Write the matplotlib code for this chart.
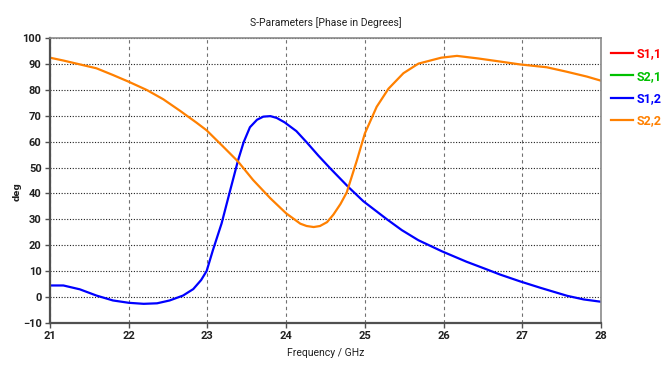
import matplotlib

matplotlib.use("Agg")

import matplotlib.pyplot as plt

# S1,2 phase (blue)
freq_s12 = [21.0, 21.17, 21.38, 21.59, 21.8, 22.0, 22.19, 22.36, 22.52, 22.69,
            22.82, 22.92, 22.99, 23.07, 23.18, 23.29, 23.39, 23.46, 23.54, 23.63,
            23.71, 23.8, 23.88, 23.98, 24.13, 24.26, 24.41, 24.56, 24.79, 24.98,
            25.28, 25.47, 25.68, 25.98, 26.29, 26.55, 26.72, 26.97, 27.23, 27.57,
            27.78, 28.0]
phase_s12 = [4.4, 4.4, 2.9, 0.5, -1.4, -2.3, -2.7, -2.5, -1.4, 0.5,
             3.0, 6.5, 10.0, 18.1, 28.4, 41.3, 52.9, 59.8, 65.6, 68.5,
             69.7, 69.9, 69.2, 67.5, 64.1, 59.8, 54.6, 49.7, 42.5, 37.0,
             30.0, 25.8, 21.9, 17.6, 13.6, 10.6, 8.6, 6.0, 3.5, 0.4,
             -1.0, -1.9]

# S2,2 phase (orange)
freq_s22 = [21.0, 21.17, 21.38, 21.59, 21.8, 22.0, 22.23, 22.44, 22.65, 22.86,
            22.99, 23.2, 23.39, 23.58, 23.8, 24.0, 24.18, 24.26, 24.35, 24.43,
            24.52, 24.6, 24.69, 24.77, 24.9, 25.0, 25.15, 25.3, 25.49, 25.68,
            25.97, 26.17, 26.44, 26.72, 26.97, 27.31, 27.56, 27.82, 28.0]
phase_s22 = [92.5, 91.4, 89.9, 88.4, 85.8, 83.2, 80.0, 76.4, 72.0, 67.4,
             64.4, 58.1, 52.3, 45.2, 38.1, 32.3, 28.3, 27.4, 27.0, 27.4,
             28.9, 31.8, 35.9, 40.4, 52.9, 63.2, 73.5, 80.5, 86.5, 90.2,
             92.5, 93.2, 92.2, 91.0, 89.9, 88.8, 87.1, 85.2, 83.6]

x_ticks = [21, 22, 23, 24, 25, 26, 27, 28]
y_ticks = [-10, 0, 10, 20, 30, 40, 50, 60, 70, 80, 90, 100]

plt.rcParams["font.family"] = ["Liberation Sans Narrow", "Roboto", "DejaVu Sans"]

fig = plt.figure(figsize=(6.65, 3.69), dpi=100)
ax = fig.add_axes([50 / 665, 1 - 322.7 / 369, 551 / 665, 284.4 / 369])

# S1,1 and S2,1 have no trace, they only show in the legend
ax.plot([], [], color="#ff0000", lw=1.6, label="S1,1")
ax.plot([], [], color="#00c000", lw=1.6, label="S2,1")
ax.plot(freq_s12, phase_s12, color="#0000ff", lw=1.6, label="S1,2")
ax.plot(freq_s22, phase_s22, color="#ff8000", lw=1.6, label="S2,2")

ax.set_xlim(21, 28)
ax.set_ylim(-10, 100)
ax.set_xticks(x_ticks)
ax.set_yticks(y_ticks)
ax.tick_params(direction="out", length=3.5, width=1, color="#505050",
               labelsize=8, pad=2.5)
for lab in ax.get_xticklabels() + ax.get_yticklabels():
    lab.set_fontweight("bold")
    lab.set_color("#202020")

ax.xaxis.grid(True, linestyle=(0, (3, 3)), color="#707070", lw=0.8)
ax.yaxis.grid(True, linestyle=(0, (1, 1.5)), color="#202020", lw=0.8)

for side in ["left", "bottom"]:
    ax.spines[side].set_color("#505050")
    ax.spines[side].set_linewidth(1.6)
for side in ["top", "right"]:
    ax.spines[side].set_color("#8a8a8a")
    ax.spines[side].set_linewidth(1.2)

ax.set_title("S-Parameters [Phase in Degrees]", fontsize=7.5, pad=9,
             color="#202020")
ax.set_xlabel("Frequency / GHz", fontsize=7.5, labelpad=5, color="#202020")
fig.text(17 / 665, 1 - 192 / 369, "deg", rotation=90, fontsize=6.5,
         fontweight="bold", ha="center", va="center", color="#202020",
         family="DejaVu Sans")

leg = ax.legend(loc="upper left", bbox_to_anchor=(605 / 665, 1 - 41 / 369),
                bbox_transform=fig.transFigure, frameon=False, borderpad=0,
                labelcolor="linecolor", handlelength=1.7, handletextpad=0.35,
                labelspacing=0.75, prop={"size": 9, "weight": "bold"})

fig.savefig("out.png", dpi=100)
